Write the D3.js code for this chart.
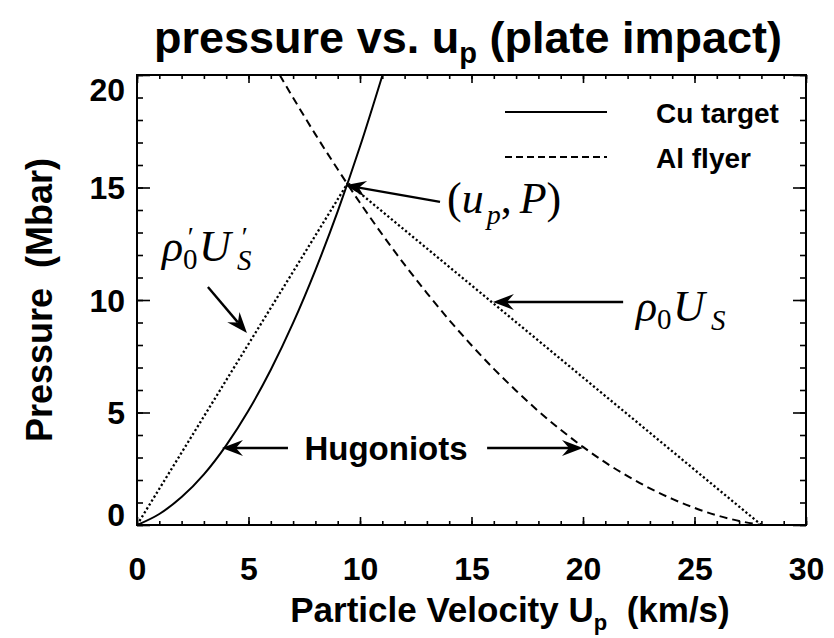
<!DOCTYPE html>
<html>
<head>
<meta charset="utf-8">
<script src="https://cdn.jsdelivr.net/npm/d3@7"></script>
<style>
  html, body { margin: 0; padding: 0; background: #fff; }
  svg { display: block; }
  .sans { font-family: "Liberation Sans", Arial, Helvetica, sans-serif; font-weight: bold; }
  .serif { font-family: "Liberation Serif", "Times New Roman", serif; }
</style>
</head>
<body>
<svg id="chart" width="834" height="638"></svg>
<script>
// Cu target Hugoniot: particle velocity (km/s) vs pressure (Mbar)
const cuUp = [0, 1, 2, 3, 4, 5, 6, 7, 8, 9, 10, 11];
const cuP  = [0, 0.49, 1.24, 2.25, 3.54, 5.09, 6.90, 8.98, 11.33, 13.94, 16.82, 19.97];

// Al flyer (reflected) Hugoniot
const alUp = [6.4, 7, 8, 9, 10, 11, 12, 13, 14, 15, 16, 17, 18, 19, 20, 21, 22, 23, 24, 25, 26, 27, 28];
const alP  = [20.0, 18.99, 17.36, 15.81, 14.32, 12.91, 11.57, 10.31, 9.11, 7.99, 6.94, 5.97, 5.06,
              4.23, 3.47, 2.78, 2.17, 1.63, 1.16, 0.76, 0.43, 0.18, 0];

// Rayleigh lines through the impact state
const rayTargetUp = [0, 9.45];
const rayTargetP  = [0, 15.2];
const rayFlyerUp  = [28, 9.45];
const rayFlyerP   = [0, 15.2];

// Axis ticks
const xMajor = [0, 5, 10, 15, 20, 25, 30];
const yMajor = [0, 5, 10, 15, 20];
const xMinor = d3.range(0, 31, 1);
const yMinor = d3.range(0, 21, 1);

// Annotation arrows [tailUp, tailP, tipUp, tipP]
const arrows = [
  [3.18, 10.58, 4.93, 8.53],
  [13.59, 14.36, 9.33, 15.1],
  [21.8, 9.91, 15.96, 9.91],
  [6.77, 3.42, 3.81, 3.42],
  [15.70, 3.42, 20.0, 3.42]
];

const svg = d3.select("#chart");
const L = 137, R = 806, T = 75, B = 525;

const x = d3.scaleLinear().domain([0, 30]).range([L, R]);
const y = d3.scaleLinear().domain([0, 20]).range([B, T]);

svg.append("defs").append("clipPath").attr("id", "plotclip")
  .append("rect").attr("x", L).attr("y", T).attr("width", R - L).attr("height", B - T);

// Title
const title = svg.append("text").attr("class", "sans")
  .attr("x", 468).attr("y", 53).attr("text-anchor", "middle")
  .attr("font-size", 45);
title.append("tspan").text("pressure vs. u");
title.append("tspan").attr("font-size", 29).attr("dy", 10).text("p");
title.append("tspan").attr("dy", -10).text(" (plate impact)");

// Axes
function styleAxis(g) {
  g.select(".domain").remove();
  g.selectAll(".tick line").attr("stroke", "#000").attr("stroke-width", 1.6);
  g.selectAll("text").attr("class", "sans").attr("font-size", 32).attr("fill", "#000")
    .attr("font-family", null).attr("font-weight", "bold");
}

svg.append("g").attr("transform", `translate(0,${B})`)
  .call(d3.axisBottom(x).tickValues(xMinor).tickSize(-4).tickFormat("")).call(styleAxis);
svg.append("g").attr("transform", `translate(0,${B})`)
  .call(d3.axisBottom(x).tickValues(xMajor).tickSize(-8).tickPadding(32).tickFormat(d3.format("d")))
  .call(styleAxis);
svg.append("g").attr("transform", `translate(0,${T})`)
  .call(d3.axisTop(x).tickValues(xMinor).tickSize(-4).tickFormat("")).call(styleAxis);
svg.append("g").attr("transform", `translate(0,${T})`)
  .call(d3.axisTop(x).tickValues(xMajor).tickSize(-8).tickFormat("")).call(styleAxis);

svg.append("g").attr("transform", `translate(${L},0)`)
  .call(d3.axisLeft(y).tickValues(yMinor).tickSize(-6).tickFormat("")).call(styleAxis);
const yAx = svg.append("g").attr("transform", `translate(${L},0)`)
  .call(d3.axisLeft(y).tickValues(yMajor).tickSize(-13).tickPadding(12).tickFormat(d3.format("d")))
  .call(styleAxis);
// keep the end labels inside the frame height
yAx.selectAll(".tick text").attr("dy", d => d === 0 ? "0" : d === 20 ? "0.8em" : "0.35em");
svg.append("g").attr("transform", `translate(${R},0)`)
  .call(d3.axisRight(y).tickValues(yMinor).tickSize(-6).tickFormat("")).call(styleAxis);
svg.append("g").attr("transform", `translate(${R},0)`)
  .call(d3.axisRight(y).tickValues(yMajor).tickSize(-13).tickFormat("")).call(styleAxis);

svg.append("rect").attr("x", L).attr("y", T).attr("width", R - L).attr("height", B - T)
  .attr("fill", "none").attr("stroke", "#000").attr("stroke-width", 2);

// Axis titles
const xt = svg.append("text").attr("class", "sans").attr("font-size", 35)
  .attr("x", 510).attr("y", 622).attr("text-anchor", "middle");
xt.append("tspan").text("Particle Velocity U");
xt.append("tspan").attr("font-size", 22).attr("dy", 8).text("p");
xt.append("tspan").attr("dy", -8).attr("xml:space", "preserve").text("  (km/s)");

svg.append("text").attr("class", "sans").attr("font-size", 36)
  .attr("transform", "translate(52,300) rotate(-90)").attr("text-anchor", "middle")
  .attr("xml:space", "preserve").text("Pressure  (Mbar)");

// Curves
const plot = svg.append("g").attr("clip-path", "url(#plotclip)");
const line = d3.line().x(d => x(d[0])).y(d => y(d[1])).curve(d3.curveMonotoneX);
const straight = d3.line().x(d => x(d[0])).y(d => y(d[1]));

plot.append("path").datum(d3.zip(cuUp, cuP)).attr("d", line)
  .attr("fill", "none").attr("stroke", "#000").attr("stroke-width", 2);
plot.append("path").datum(d3.zip(alUp, alP)).attr("d", line)
  .attr("fill", "none").attr("stroke", "#000").attr("stroke-width", 2).attr("stroke-dasharray", "8,5");
plot.append("path").datum(d3.zip(rayTargetUp, rayTargetP)).attr("d", straight)
  .attr("fill", "none").attr("stroke", "#000").attr("stroke-width", 2.3).attr("stroke-dasharray", "2.2,2.4");
plot.append("path").datum(d3.zip(rayFlyerUp, rayFlyerP)).attr("d", straight)
  .attr("fill", "none").attr("stroke", "#000").attr("stroke-width", 2.3).attr("stroke-dasharray", "2.2,2.4");

// Legend
svg.append("line").attr("x1", 505).attr("x2", 607).attr("y1", 112).attr("y2", 112)
  .attr("stroke", "#000").attr("stroke-width", 2);
svg.append("line").attr("x1", 505).attr("x2", 607).attr("y1", 157).attr("y2", 157)
  .attr("stroke", "#000").attr("stroke-width", 2).attr("stroke-dasharray", "7,4");
svg.append("text").attr("class", "sans").attr("font-size", 28).attr("x", 656).attr("y", 123).text("Cu target");
svg.append("text").attr("class", "sans").attr("font-size", 28).attr("x", 656).attr("y", 168).text("Al flyer");

// Arrows with notched heads
function arrow(a) {
  const x0 = x(a[0]), y0 = y(a[1]), x1 = x(a[2]), y1 = y(a[3]);
  const ang = Math.atan2(y1 - y0, x1 - x0);
  const len = 21, half = 8, notch = 14;
  const ux = Math.cos(ang), uy = Math.sin(ang), px = -uy, py = ux;
  const bx = x1 - ux * len, by = y1 - uy * len;
  const nx = x1 - ux * notch, ny = y1 - uy * notch;
  svg.append("line").attr("x1", x0).attr("y1", y0).attr("x2", nx).attr("y2", ny)
    .attr("stroke", "#000").attr("stroke-width", 2.4);
  svg.append("path")
    .attr("d", `M${x1},${y1} L${bx + px * half},${by + py * half} L${nx},${ny} L${bx - px * half},${by - py * half} Z`)
    .attr("fill", "#000");
}
arrows.forEach(arrow);

// Labels
svg.append("text").attr("class", "sans").attr("font-size", 33)
  .attr("x", 386).attr("y", 460).attr("text-anchor", "middle").text("Hugoniots");

// (u_p, P)
const upP = svg.append("text").attr("class", "serif").attr("font-size", 44).attr("x", 447).attr("y", 213);
upP.append("tspan").text("(");
upP.append("tspan").attr("font-style", "italic").text("u");
upP.append("tspan").attr("font-style", "italic").attr("font-size", 28).attr("dx", 3).attr("dy", 11).text("p");
upP.append("tspan").attr("dy", -11).text(",");
upP.append("tspan").attr("font-style", "italic").attr("dx", 8).text("P");
upP.append("tspan").text(")");

// rho_0 U_S, one text element with placed glyphs
function rhoLabel(x0, y0, primes) {
  const t = svg.append("text").attr("class", "serif");
  const part = (s, dx, dy, size, italic) => t.append("tspan")
    .attr("x", x0 + dx).attr("y", y0 + dy).attr("font-size", size)
    .attr("font-style", italic ? "italic" : "normal").text(s);
  part("ρ", 0, 0, 44, true);
  if (primes) part("′", 24, -15, 28, true);
  part("0", 21, 8, 29, false);
  part("U", 37, 0, 44, true);
  if (primes) part("′", 78, -15, 28, true);
  part("S", 75, 9, 29, true);
}
rhoLabel(636, 321, false);
rhoLabel(162, 261, true);
</script>
</body>
</html>
